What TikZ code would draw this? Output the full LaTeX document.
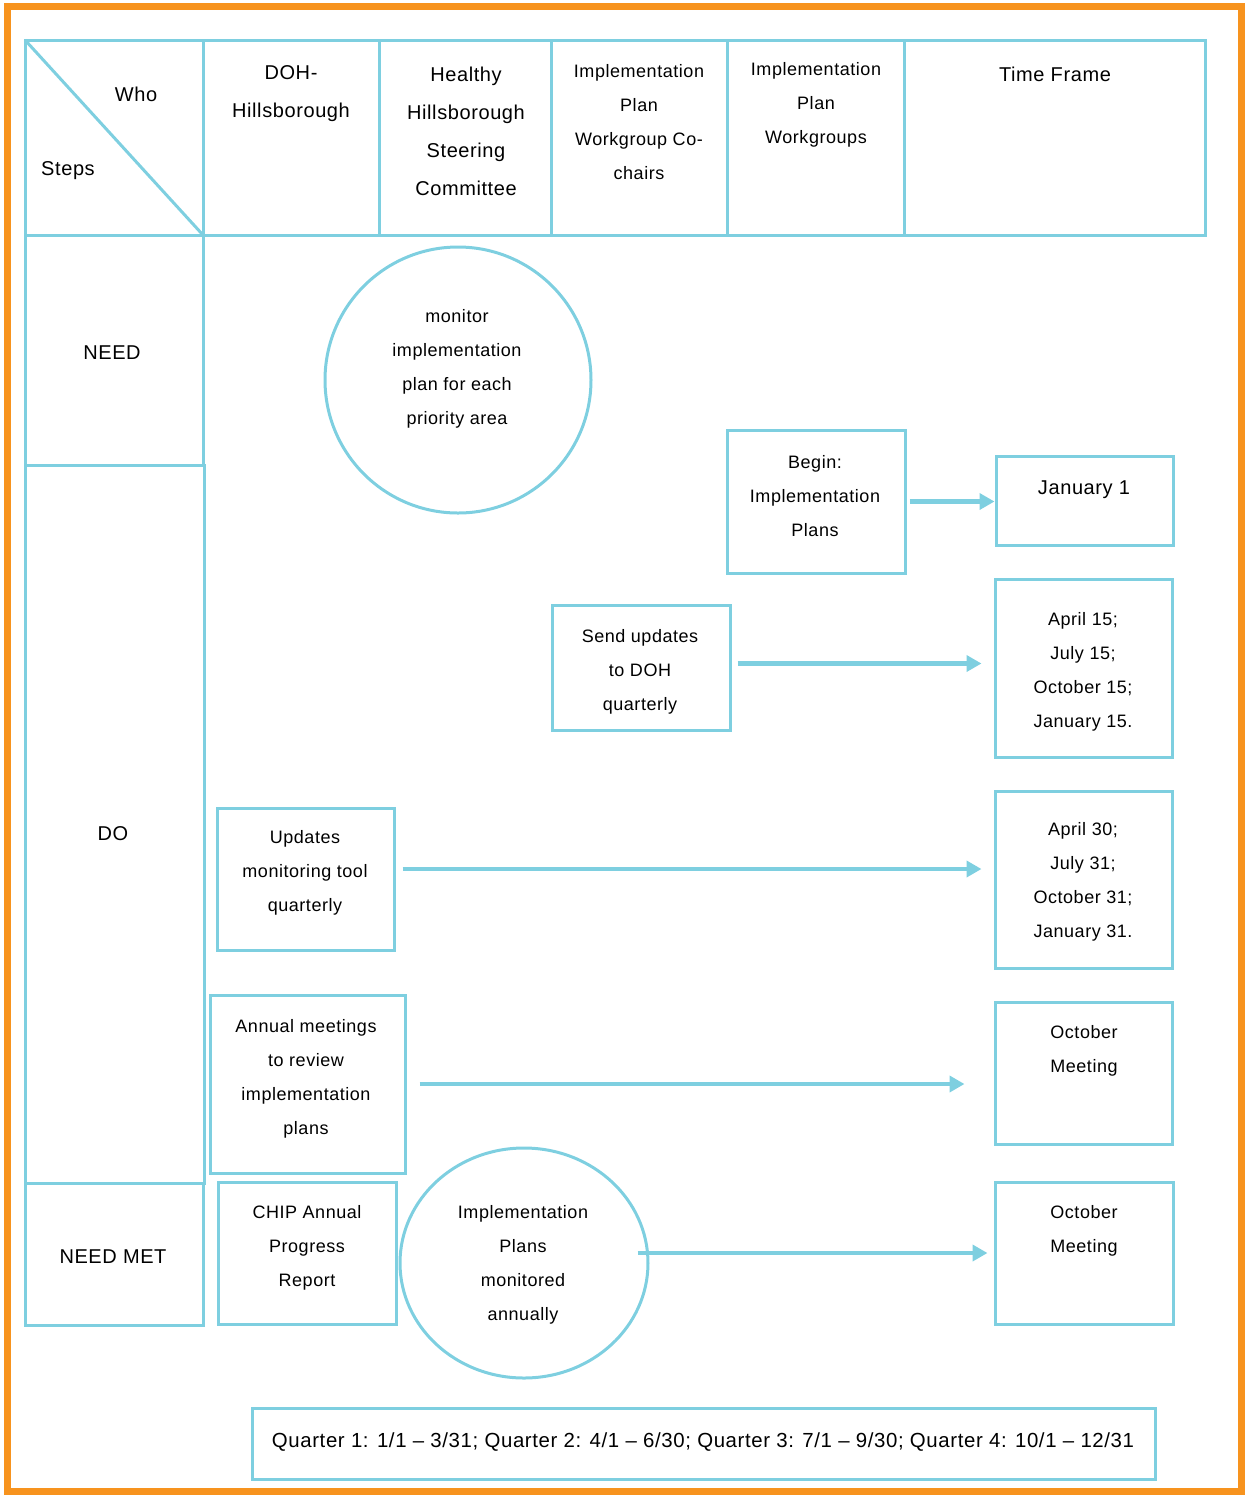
\documentclass[tikz,border=0pt]{standalone}
\usepackage{fontspec}
\setmainfont[LetterSpace=3]{Liberation Sans}
\usetikzlibrary{arrows.meta,calc,fit,shapes.geometric}
\definecolor{chipblue}{HTML}{7ECFE0}
\definecolor{chiporange}{HTML}{F7931E}

\begin{document}
\begin{tikzpicture}[x=0.5pt,y=-0.5pt,
    box/.style={draw=chipblue,line width=1.5pt,inner sep=0pt},
    txt/.style={align=center,yshift=-1pt,font=\fontsize{9}{17}\selectfont},
    head/.style={align=center,yshift=-1pt,font=\fontsize{10}{19}\selectfont},
    flow/.style={draw=chipblue,line width=2.4pt,-{Triangle[length=7.5pt,width=8pt]}}]
    \useasboundingbox (0,0) rectangle (1247,1495);

    %%%%% FRAME %%%%%
    \draw[chiporange,line width=3.5pt] (7.5,6.5) rectangle (1241.5,1491.5);

    %%%%% HEADER ROW %%%%%
    \draw[chipblue,line width=1.5pt] (25,40) rectangle (1205,235);
    \foreach \cx in {203,379,551,727,904}
        \draw[chipblue,line width=1.5pt] (\cx,40) -- (\cx,235);
    \draw[chipblue,line width=1.5pt] (25,40) -- (203,235);

    \node[head] (who) at (136,92) {Who};
    \node[head] (steps) at (68,169) {Steps};
    \node[head] (doh) at (291,92) {DOH-\\Hillsborough};
    \node[head] (hhsc) at (466,129) {Healthy\\Hillsborough\\Steering\\Committee};
    \node[txt] (cochairs) at (639,120) {Implementation\\Plan\\Workgroup Co-\\chairs};
    \node[txt] (wgroups) at (816,103) {Implementation\\Plan\\Workgroups};
    \node[head] (timeframe) at (1055,72) {Time Frame};

    %%%%% STEPS COLUMN %%%%%
    \draw[chipblue,line width=1.5pt] (25,235) rectangle (203,465);
    \draw[chipblue,line width=1.5pt] (25,465) rectangle (204,1183);
    \draw[chipblue,line width=1.5pt] (25,1183) rectangle (203,1325);
    \node[head] (need) at (112,351) {NEED};
    \node[head] (do) at (113,832) {DO};
    \node[head] (needmet) at (113,1255) {NEED MET};

    %%%%% BOXES %%%%%
    \node[box,circle,minimum size=133pt] (mon1) at (458,380) {};
    \node[box,fit={(727,430) (905,573)}] (begin) {};
    \node[box,fit={(996,456) (1173,545)}] (jan) {};
    \node[box,fit={(552,605) (730,730)}] (send) {};
    \node[box,fit={(995,579) (1172,757)}] (apr15) {};
    \node[box,fit={(217,808) (394,950)}] (upd) {};
    \node[box,fit={(995,791) (1172,968)}] (apr30) {};
    \node[box,fit={(210,995) (405,1173)}] (annual) {};
    \node[box,fit={(995,1002) (1172,1144)}] (oct1) {};
    \node[box,fit={(218,1182) (396,1324)}] (chip) {};
    \node[box,ellipse,minimum width=124pt,minimum height=115pt] (mon2) at (524,1263) {};
    \node[box,fit={(995,1182) (1173,1324)}] (oct2) {};
    \node[box,fit={(252,1408) (1155,1479)}] (quarters) {};

    \node[txt] (mon1T) at (457,367) {monitor\\implementation\\plan for each\\priority area};
    \node[txt] (beginT) at (815,494) {Begin:\\Implementation\\Plans};
    \node[head] (janT) at (1084,488) {January 1};
    \node[txt] (sendT) at (640,670) {Send updates\\to DOH\\quarterly};
    \node[txt] (apr15T) at (1083,670) {April 15;\\July 15;\\October 15;\\January 15.};
    \node[txt] (updT) at (305,871) {Updates\\monitoring tool\\quarterly};
    \node[txt] (apr30T) at (1083,880) {April 30;\\July 31;\\October 31;\\January 31.};
    \node[txt] (annualT) at (306,1077) {Annual meetings\\to review\\implementation\\plans};
    \node[txt] (oct1T) at (1084,1049) {October\\Meeting};
    \node[txt] (chipT) at (307,1246) {CHIP Annual\\Progress\\Report};
    \node[txt] (mon2T) at (523,1263) {Implementation\\Plans\\monitored\\annually};
    \node[txt] (oct2T) at (1084,1229) {October\\Meeting};
    \node[txt,font=\fontsize{10.2}{12}\selectfont] (quartersT) at (703,1440)
        {Quarter 1: 1/1 -- 3/31; Quarter 2: 4/1 -- 6/30; Quarter 3: 7/1 -- 9/30; Quarter 4: 10/1 -- 12/31};

    %%%%% ARROWS %%%%%
    \draw[flow,shorten <=1.5pt] (begin.east) -- (begin.east -| jan.west);
    \draw[flow,shorten <=3pt,shorten >=6pt] ($(send.east)+(0,-4)$) -- ($(send.east -| apr15.west)+(0,-4)$);
    \draw[flow,shorten <=3.5pt,shorten >=6pt] ($(upd.east)+(0,-10)$) -- ($(upd.east -| apr30.west)+(0,-10)$);
    \draw[flow,shorten <=6.5pt,shorten >=14.5pt] (annual.east) -- (annual.east -| oct1.west);
    \draw[flow,shorten >=3pt] ([xshift=-6pt]mon2.east |- oct2.west) -- (oct2.west);
\end{tikzpicture}
\end{document}
